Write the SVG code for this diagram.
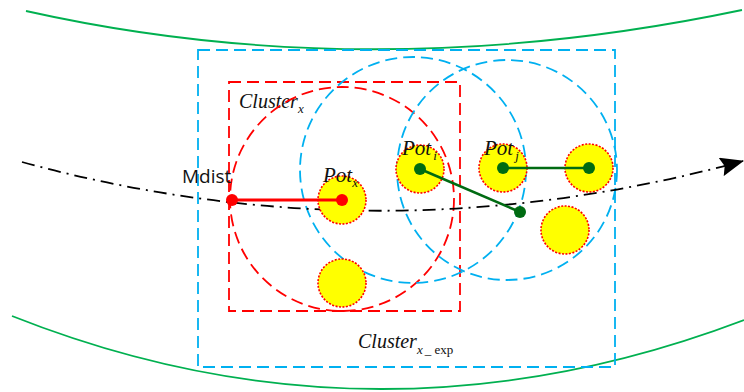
<svg xmlns="http://www.w3.org/2000/svg" width="744" height="392" viewBox="0 0 744 392">
<defs>
<style>
.road{fill:none;stroke:#00b050;stroke-width:1.8}
.blue{fill:none;stroke:#00b0f0;stroke-width:1.8;stroke-dasharray:12 6}
.red{fill:none;stroke:#ff0000;stroke-width:1.8;stroke-dasharray:12 6}
.pot{fill:#ffff00;stroke:#ff0000;stroke-width:1.6;stroke-dasharray:2 1.5}
.gdot{fill:#006b12}
.rdot{fill:#ff0000}
.lbl{font-family:"Liberation Serif","Times New Roman",serif;font-style:italic;fill:#111}
.sub{font-size:13px}
.gline{stroke:#006b12;stroke-width:2.5;fill:none}
</style>
<marker id="arrBig" viewBox="0 0 20 16" refX="19" refY="8" markerWidth="24" markerHeight="19" markerUnits="userSpaceOnUse" orient="auto">
<path d="M0,0 L20,8 L0,16 L3,8 z" fill="#000"/>
</marker>
</defs>
<g id="road">
<path class="road" d="M26,11 Q370,88 742,10"/>
<path class="road" d="M12,316 Q375,460 744,320"/>
</g>
<g id="cluster_exp">
<rect class="blue" x="198" y="50" width="417" height="317"/>
<text class="lbl" x="358" y="348" font-size="20">Cluster<tspan class="sub" dy="6">x</tspan><tspan class="sub" font-style="normal" dx="2">_ exp</tspan></text>
</g>
<g id="cluster_x">
<rect class="red" x="229" y="82" width="231" height="229"/>
<text class="lbl" x="239" y="108" font-size="20">Cluster<tspan class="sub" dy="5">x</tspan></text>
</g>
<g id="circles">
<circle class="red" cx="342" cy="199" r="112"/>
<circle class="blue" cx="413" cy="170" r="113"/>
<circle class="blue" cx="507" cy="170" r="110"/>
</g>
<g id="trajectory">
<path d="M22,162 Q380,260 743,161" fill="none" stroke="#000" stroke-width="1.8" stroke-dasharray="13 6 2 6" marker-end="url(#arrBig)"/>
</g>
<g id="pot_bottom"><circle class="pot" cx="342" cy="283" r="24"/></g>
<g id="pot_lower_right"><circle class="pot" cx="565" cy="230" r="24"/></g>
<g id="pot_x">
<circle class="pot" cx="342" cy="200" r="24"/>
<text class="lbl" x="323" y="182" font-size="21">Pot<tspan class="sub" dy="5">x</tspan></text>
</g>
<g id="pot_i">
<circle class="pot" cx="420" cy="169" r="24"/>
<text class="lbl" x="402" y="155" font-size="21">Pot<tspan class="sub" dy="5" dx="2">i</tspan></text>
</g>
<g id="pot_j">
<circle class="pot" cx="503" cy="168" r="24"/>
<text class="lbl" x="484" y="155" font-size="21">Pot<tspan class="sub" dy="5" dx="2">j</tspan></text>
</g>
<g id="pot_right"><circle class="pot" cx="589" cy="168" r="24"/></g>
<g id="connectors">
<line x1="232" y1="200" x2="342" y2="200" stroke="#ff0000" stroke-width="3"/>
<line class="gline" x1="420" y1="169" x2="520" y2="212"/>
<line class="gline" x1="503" y1="168" x2="589" y2="168"/>
</g>
<g id="points">
<circle class="rdot" cx="232" cy="200" r="6"/>
<circle class="rdot" cx="342" cy="200" r="6"/>
<circle class="gdot" cx="420" cy="169" r="6"/>
<circle class="gdot" cx="503" cy="168" r="6"/>
<circle class="gdot" cx="589" cy="168" r="6"/>
<circle class="gdot" cx="520" cy="212" r="6"/>
</g>
<g id="mdist">
<text x="182" y="183" font-family="'Open Sans','Liberation Sans',sans-serif" font-size="19" fill="#111">Mdist</text>
</g>
</svg>
